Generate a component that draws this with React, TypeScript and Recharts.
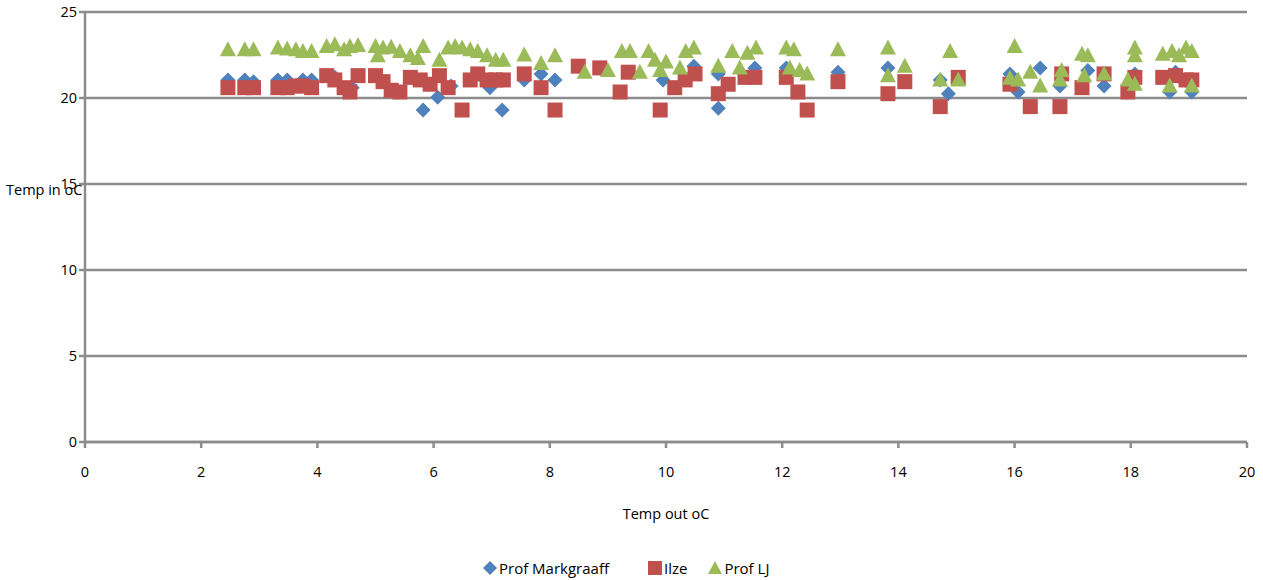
import React from 'react'
import { CartesianGrid, Scatter, ScatterChart, XAxis, YAxis } from 'recharts'

// Prof Markgraaff (blue diamonds)
const markX = [
  2.46, 2.75, 2.9, 3.32, 3.48, 3.75, 3.9, 4.3, 4.6, 5.82, 6.07, 6.3, 6.97, 7.18,
  7.56, 7.85, 8.09, 9.95, 10.48, 10.9, 10.9, 11.53, 12.07, 12.96, 13.82, 14.72,
  14.86, 15.92, 16.06, 16.44, 16.78, 17.26, 17.54, 18.07, 18.67, 18.77, 19.05,
]
const markY = [
  21.05, 21.05, 20.95, 21.05, 21.05, 21.05, 21.05, 21.2, 20.6, 19.3, 20.05, 20.7, 20.6,
  19.3, 21.05, 21.4, 21.05, 21.05, 21.85, 21.4, 19.4, 21.75, 21.75, 21.5, 21.75, 21.05,
  20.25, 21.4, 20.35, 21.75, 20.7, 21.6, 20.7, 21.4, 20.35, 21.5, 20.35,
]

// Ilze (red squares)
const ilzeX = [
  2.46, 2.75, 2.9, 3.32, 3.48, 3.63, 3.75, 3.9, 4.16, 4.3, 4.46, 4.56, 4.7, 5.0, 5.13,
  5.27, 5.42, 5.6, 5.77, 5.94, 6.1, 6.25, 6.49, 6.63, 6.76, 6.92, 7.07, 7.2, 7.56, 7.85,
  8.09, 8.49, 8.86, 9.21, 9.35, 9.9, 10.15, 10.33, 10.5, 10.9, 11.07, 11.36, 11.53,
  12.07, 12.27, 12.43, 12.96, 13.82, 14.11, 14.72, 15.03, 15.92, 16.27, 16.78, 16.81,
  17.16, 17.54, 17.95, 18.07, 18.55, 18.77, 18.95, 19.05,
]
const ilzeY = [
  20.6, 20.6, 20.6, 20.6, 20.6, 20.7, 20.7, 20.6, 21.3, 21.05, 20.6, 20.35, 21.3, 21.3,
  20.95, 20.45, 20.35, 21.2, 21.05, 20.8, 21.3, 20.6, 19.3, 21.05, 21.4, 21.05, 21.05,
  21.05, 21.4, 20.6, 19.3, 21.85, 21.75, 20.35, 21.5, 19.3, 20.6, 21.05, 21.4, 20.25,
  20.8, 21.2, 21.2, 21.2, 20.35, 19.3, 20.95, 20.25, 20.95, 19.5, 21.2, 20.8, 19.5, 19.5,
  21.4, 20.6, 21.4, 20.35, 21.2, 21.2, 21.3, 21.05, 21.05,
]

// Prof LJ (green triangles)
const ljX = [
  2.46, 2.75, 2.9, 3.32, 3.48, 3.63, 3.75, 3.9, 4.16, 4.3, 4.46, 4.56, 4.7, 5.0, 5.13,
  5.27, 5.42, 5.04, 5.6, 5.82, 5.73, 6.1, 6.25, 6.37, 6.49, 6.63, 6.76, 6.92, 7.07, 7.2,
  7.56, 7.85, 8.09, 8.6, 9.0, 9.24, 9.38, 9.55, 9.7, 9.81, 9.9, 10.0, 10.24, 10.34,
  10.48, 10.9, 11.14, 11.27, 11.4, 11.55, 12.07, 12.2, 12.13, 12.3, 12.43, 12.96, 13.82,
  13.82, 14.11, 14.72, 14.89, 15.03, 16.0, 15.92, 16.06, 16.27, 16.44, 16.78, 16.81,
  17.16, 17.26, 17.2, 17.54, 17.95, 18.07, 18.07, 18.07, 18.55, 18.71, 18.83, 18.95,
  19.05, 18.67, 19.05,
]
const ljY = [
  22.8, 22.8, 22.8, 22.9, 22.85, 22.8, 22.7, 22.7, 23.0, 23.1, 22.8, 23.0, 23.05, 23.0,
  22.9, 22.95, 22.7, 22.45, 22.45, 23.0, 22.3, 22.2, 22.9, 23.0, 22.9, 22.8, 22.7, 22.45,
  22.2, 22.2, 22.5, 22.0, 22.45, 21.5, 21.6, 22.7, 22.7, 21.5, 22.7, 22.2, 21.6, 22.1,
  21.75, 22.7, 22.9, 21.85, 22.7, 21.75, 22.6, 22.9, 22.9, 22.8, 21.75, 21.6, 21.4, 22.8,
  22.9, 21.3, 21.85, 21.05, 22.7, 21.05, 23.0, 21.15, 21.05, 21.5, 20.7, 21.05, 21.6,
  22.55, 22.45, 21.3, 21.4, 21.05, 22.9, 22.45, 20.8, 22.55, 22.7, 22.45, 22.9, 22.7,
  20.7, 20.7,
]

const xTicks = [0, 2, 4, 6, 8, 10, 12, 14, 16, 18, 20]
const yTicks = [0, 5, 10, 15, 20, 25]

const toPoints = (xs: number[], ys: number[]) => xs.map((x, i) => ({ x, y: ys[i] }))

const BLUE = '#4F81BD'
const RED = '#C0504D'
const GREEN = '#9BBB59'
const GRID = '#8c8c8c'
const FONT = '"Open Sans", Lato, sans-serif'
const FS = 14.5

const Diamond = ({ cx, cy }: any) => (
  <polygon
    points={`${cx},${cy - 7.5} ${cx + 7.5},${cy} ${cx},${cy + 7.5} ${cx - 7.5},${cy}`}
    fill={BLUE}
  />
)
const Square = ({ cx, cy }: any) => (
  <rect x={cx - 7.5} y={cy - 7.5} width={15} height={15} fill={RED} />
)
const Triangle = ({ cx, cy }: any) => (
  <polygon
    points={`${cx},${cy - 8.5} ${cx + 8},${cy + 6.5} ${cx - 8},${cy + 6.5}`}
    fill={GREEN}
  />
)

const series = [
  { name: 'Prof Markgraaff', data: toPoints(markX, markY), shape: Diamond, color: BLUE, gap: 38 },
  { name: 'Ilze', data: toPoints(ilzeX, ilzeY), shape: Square, color: RED, gap: 20 },
  { name: 'Prof LJ', data: toPoints(ljX, ljY), shape: Triangle, color: GREEN, gap: 0 },
]

const LegendIcon = ({ name, color }: { name: string; color: string }) => (
  <svg width={16} height={16} style={{ marginRight: 1 }}>
    {name === 'Prof Markgraaff' && <polygon points="8,1 15,8 8,15 1,8" fill={color} />}
    {name === 'Ilze' && <rect x={1} y={1} width={14} height={14} fill={color} />}
    {name === 'Prof LJ' && <polygon points="8,1 15,14 1,14" fill={color} />}
  </svg>
)

export default function App() {
  return (
    <div
      style={{
        position: 'absolute',
        left: 0,
        top: 0,
        width: 1263,
        height: 580,
        background: '#fff',
        fontFamily: FONT,
      }}
    >
      <ScatterChart
        width={1263}
        height={540}
        margin={{ top: 12, right: 16, bottom: 8, left: 20 }}
      >
        <CartesianGrid horizontal vertical={false} stroke={GRID} strokeWidth={2.5} />
        <XAxis
          type="number"
          dataKey="x"
          domain={[0, 20]}
          ticks={xTicks}
          stroke={GRID}
          strokeWidth={2.5}
          tickSize={6}
          tickMargin={19}
          height={90}
          tick={{ fill: '#000', fontSize: FS, fontFamily: FONT }}
          label={{
            value: 'Temp out oC',
            position: 'insideBottom',
            offset: 13,
            fill: '#000',
            fontSize: FS,
            fontFamily: FONT,
          }}
        />
        <YAxis
          type="number"
          dataKey="y"
          domain={[0, 25]}
          ticks={yTicks}
          stroke={GRID}
          strokeWidth={2.5}
          tickSize={6}
          tickMargin={2}
          width={65}
          tick={{ fill: '#000', fontSize: FS, fontFamily: FONT }}
          label={{
            value: 'Temp in oC',
            position: 'insideLeft',
            offset: -14,
            dy: -37,
            fill: '#000',
            fontSize: FS,
            fontFamily: FONT,
          }}
        />
        {series.map((s) => (
          <Scatter
            key={s.name}
            name={s.name}
            data={s.data}
            fill={s.color}
            shape={s.shape}
            isAnimationActive={false}
          />
        ))}
      </ScatterChart>
      <div
        style={{
          position: 'absolute',
          top: 558,
          left: 482,
          display: 'flex',
          alignItems: 'center',
          fontSize: 15,
          color: '#000',
          whiteSpace: 'nowrap',
        }}
      >
        {series.map((s) => (
          <span
            key={s.name}
            style={{ display: 'flex', alignItems: 'center', marginRight: s.gap }}
          >
            <LegendIcon name={s.name} color={s.color} />
            {s.name}
          </span>
        ))}
      </div>
    </div>
  )
}
